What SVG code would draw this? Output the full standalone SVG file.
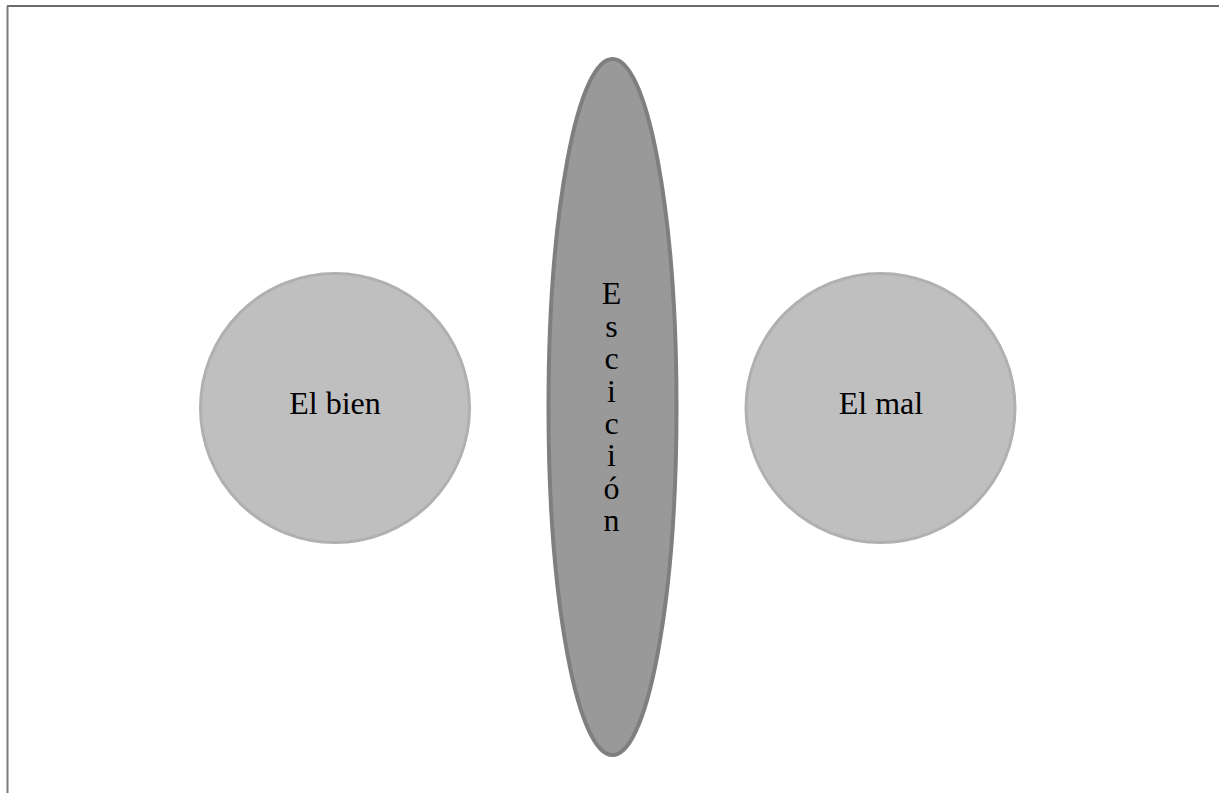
<svg xmlns="http://www.w3.org/2000/svg" width="1219" height="793" viewBox="0 0 1219 793">
<style>
.lbl{font-family:'Liberation Serif','DejaVu Serif',serif;font-size:32px;fill:#000000;text-anchor:middle}
.vert{writing-mode:vertical-rl;text-orientation:upright;letter-spacing:-3.6px}
.circ{fill:#bfbfbf;stroke:#b0b0b0;stroke-width:3}
.ell{fill:#999999;stroke:#7f7f7f;stroke-width:4}
</style>
<rect width="1219" height="793" fill="#ffffff"/>
<g id="frame">
<line x1="7" y1="6" x2="1219" y2="6" stroke="#3a3a3a" stroke-width="1.5"/>
<line x1="7.5" y1="6" x2="7.5" y2="793" stroke="#7a7a7a" stroke-width="2"/>
</g>
<g id="connectors"></g>
<g id="node-escicion">
<ellipse class="ell" cx="612.5" cy="407" rx="64" ry="348"/>
<text class="lbl vert" x="611.5" y="405" font-family="Liberation Serif, serif">Escición</text>
</g>
<g id="node-bien">
<circle class="circ" cx="335" cy="408" r="134.5"/>
<text class="lbl" x="335" y="414" font-family="Liberation Serif, serif">El bien</text>
</g>
<g id="node-mal">
<circle class="circ" cx="880.5" cy="408" r="134.5"/>
<text class="lbl" x="881" y="414" font-family="Liberation Serif, serif">El mal</text>
</g>
</svg>
